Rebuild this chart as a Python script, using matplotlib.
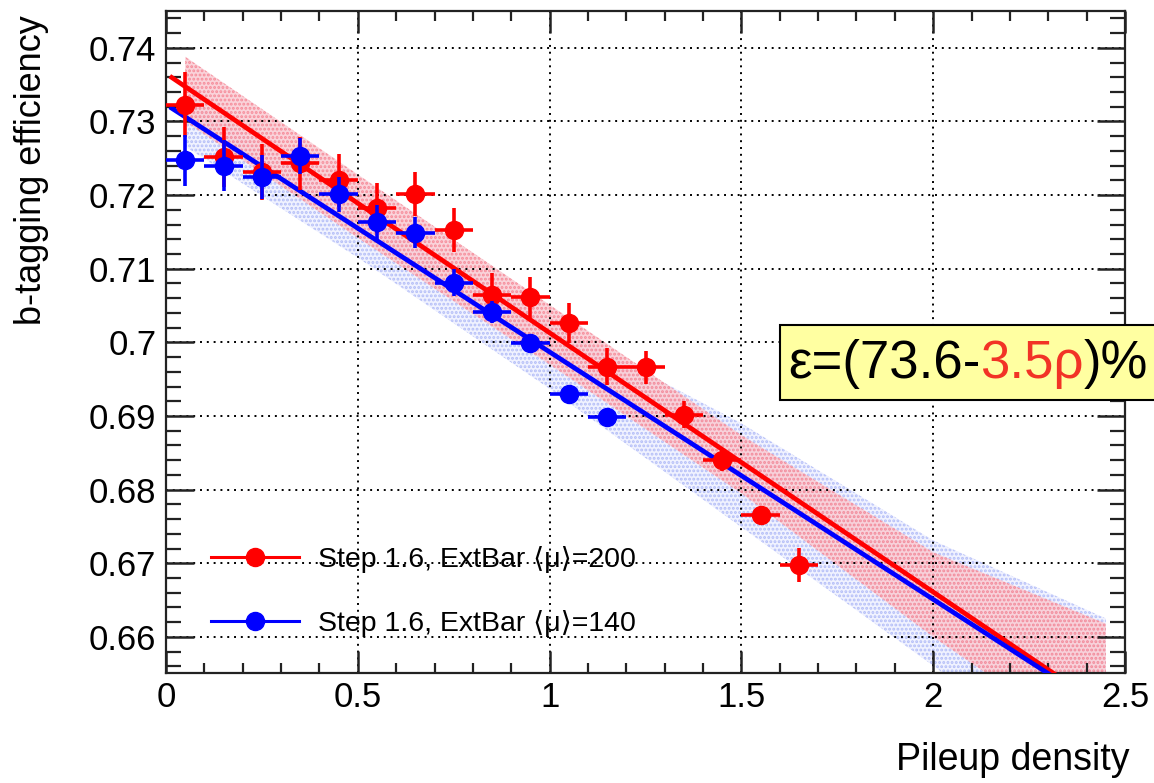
import matplotlib
matplotlib.use('Agg')
import matplotlib.pyplot as plt
import numpy as np
from matplotlib.lines import Line2D
from matplotlib.patches import Rectangle

# ---------------- data ----------------
red_rho = [0.05, 0.15, 0.25, 0.35, 0.45, 0.55, 0.65, 0.75, 0.85, 0.95,
           1.05, 1.15, 1.25, 1.35, 1.45, 1.55, 1.65]
red_eff = [0.7323, 0.7252, 0.7232, 0.7243, 0.7220, 0.7182, 0.7201, 0.7153,
           0.7064, 0.7061, 0.7026, 0.6967, 0.6966, 0.6902, 0.6840, 0.6765, 0.6698]
red_err = [0.0044, 0.0041, 0.0038, 0.0036, 0.0036, 0.0034, 0.0030, 0.0030,
           0.0030, 0.0028, 0.0027, 0.0025, 0.0022, 0.0018, 0.0015, 0.0010, 0.0023]

blue_rho = [0.05, 0.15, 0.25, 0.35, 0.45, 0.55, 0.65, 0.75, 0.85, 0.95, 1.05, 1.15]
blue_eff = [0.7247, 0.7240, 0.7225, 0.7253, 0.7201, 0.7164, 0.7149, 0.7081,
            0.7041, 0.6999, 0.6930, 0.6899]
blue_err = [0.0034, 0.0035, 0.0030, 0.0025, 0.0024, 0.0023, 0.0021, 0.0018,
            0.0015, 0.0010, 0.0008, 0.0008]

bin_half_width = 0.05

# linear fits (intercept, slope) and their drawing range
red_fit = (0.7365, -0.0352)
blue_fit = (0.7323, -0.0336)
fit_range = [0.015, 2.45]

# error bands (edges at nodes)
band_rho = [0.05, 0.5, 1.0, 1.5, 2.0, 2.45]
red_band_hi = [0.7388, 0.7228, 0.7051, 0.6874, 0.6715, 0.6618]
red_band_lo = [0.7300, 0.7142, 0.6970, 0.6795, 0.6600, 0.6440]
blue_band_hi = [0.7336, 0.7185, 0.7027, 0.6890, 0.6731, 0.6625]
blue_band_lo = [0.7266, 0.7115, 0.6937, 0.6749, 0.6561, 0.6380]

labels = ["Step 1.6, ExtBar \u27e8\u03bc\u27e9=200", "Step 1.6, ExtBar \u27e8\u03bc\u27e9=140"]
formula_parts = ["\u03b5=(73.6-", "3.5\u03c1", ")%"]

FONT = ['Liberation Sans', 'DejaVu Sans']
plt.rcParams['font.family'] = FONT
plt.rcParams['hatch.linewidth'] = 1.4

RED = (1.0, 0.0, 0.0)
BLUE = (0.0, 0.0, 1.0)

fig = plt.figure(figsize=(11.54, 7.83), dpi=100)
ax = fig.add_axes([166/1154, 1-673/783, (1125-166)/1154, (673-11)/783])

# bands
ax.fill_between(band_rho, blue_band_lo, blue_band_hi, facecolor=(0.94, 0.95, 1.0),
                edgecolor=(0.70, 0.74, 0.97), hatch='....', linewidth=0, zorder=1)
ax.fill_between(band_rho, red_band_lo, red_band_hi, facecolor=(0.98, 0.80, 0.83),
                edgecolor=(0.96, 0.50, 0.56), hatch='....', linewidth=0, alpha=0.85, zorder=1.1)

# fit lines
xf = np.array(fit_range)
ax.plot(xf, red_fit[0] + red_fit[1]*xf, color=RED, lw=3.4, zorder=3)
ax.plot(xf, blue_fit[0] + blue_fit[1]*xf, color=BLUE, lw=3.4, zorder=3.1)

# points
ax.errorbar(red_rho, red_eff, xerr=bin_half_width, yerr=red_err, fmt='o', color=RED,
            ms=13, elinewidth=2.6, capsize=0, zorder=4)
ax.errorbar(blue_rho, blue_eff, xerr=bin_half_width, yerr=blue_err, fmt='o', color=BLUE,
            ms=13, elinewidth=2.6, capsize=0, zorder=5)

ax.set_xlim(0, 2.5)
ax.set_ylim(0.6551, 0.745)
ax.set_xticks([0, 0.5, 1, 1.5, 2, 2.5])
ax.set_xticklabels(['0', '0.5', '1', '1.5', '2', '2.5'])
ax.set_xticks(np.arange(0, 2.501, 0.1), minor=True)
yt = [0.66, 0.67, 0.68, 0.69, 0.70, 0.71, 0.72, 0.73, 0.74]
ax.set_yticks(yt)
ax.set_yticklabels(['0.66', '0.67', '0.68', '0.69', '0.7', '0.71', '0.72', '0.73', '0.74'])
ax.set_yticks(np.arange(0.656, 0.745, 0.002), minor=True)

ax.grid(True, which='major', color='black', linestyle=(0, (1, 2.5)), lw=1.4, zorder=0.5)
ax.tick_params(axis='both', which='both', direction='in', top=True, right=True,
               colors='#222222', labelcolor='black')
ax.tick_params(axis='y', which='major', length=20, width=1.8, labelsize=25, pad=7)
ax.tick_params(axis='y', which='minor', length=11, width=1.6)
ax.tick_params(axis='x', which='major', length=16, width=1.8, labelsize=25, pad=6)
ax.tick_params(axis='x', which='minor', length=7, width=1.6)
for s in ax.spines.values():
    s.set_linewidth(1.6)
    s.set_color('#222222')

fig.text(32/1154, 1-15/783, "b-tagging efficiency", rotation=90, ha='center', va='top',
         fontsize=26)
fig.text(1130/1154, 1-760/783, "Pileup density", ha='right', va='center', fontsize=27)

# legend
handles = [Line2D([], [], color=RED, marker='o', ms=13, lw=2.2),
           Line2D([], [], color=BLUE, marker='o', ms=13, lw=2.2)]
ax.legend(handles, labels, loc='lower left', bbox_to_anchor=(0.02, 0.016), frameon=False,
          fontsize=20.5, handlelength=3.1, handletextpad=0.65, labelspacing=1.3)

# formula box
fig.patches.append(Rectangle((780/1154, 1-400/783), 400/1154, 75/783,
                             transform=fig.transFigure, facecolor=(1.0, 1.0, 0.63),
                             edgecolor='black', lw=1.5, zorder=10))
renderer = fig.canvas.get_renderer()
x = 788/1154
ypos = 1-364/783
colors = ['black', (0.95, 0.2, 0.15), 'black']
for part, c in zip(formula_parts, colors):
    t = fig.text(x, ypos, part, ha='left', va='center', fontsize=38, color=c, zorder=11)
    bb = t.get_window_extent(renderer=renderer)
    x = bb.x1 / fig.bbox.width

fig.savefig('out.png', dpi=100)
